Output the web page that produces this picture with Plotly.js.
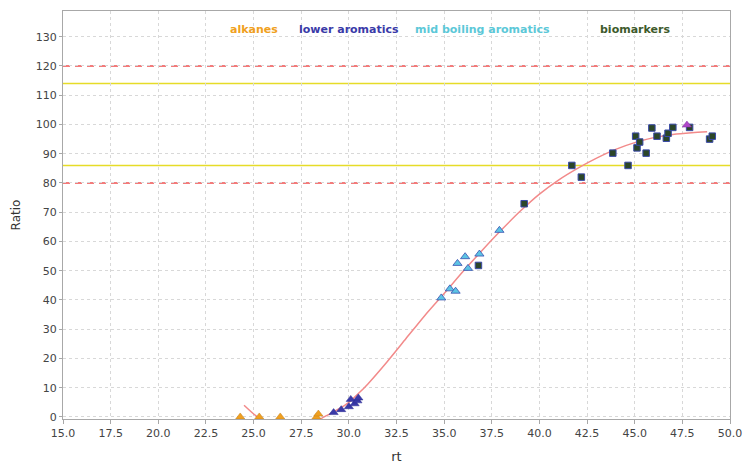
<!DOCTYPE html>
<html>
<head>
<meta charset="utf-8">
<script src="https://cdn.plot.ly/plotly-3.0.1.min.js"></script>
<style>html,body{margin:0;padding:0;background:#fff}#chart{width:744px;height:465px}</style>
</head>
<body>
<div id="chart"></div>
<script>
// ---- data ----
const alkanesX = [24.3, 25.3, 26.4, 28.3, 28.4];
const alkanesY = [0, 0, 0, 0, 1];

const lowerAromX = [29.2, 29.6, 30.0, 30.1, 30.3, 30.45, 30.5];
const lowerAromY = [1.5, 2.5, 3.5, 6.0, 4.5, 5.5, 6.5];

const midAromX = [34.85, 35.3, 35.6, 35.7, 36.1, 36.25, 36.85, 37.9];
const midAromY = [40.7, 43.8, 43.0, 52.5, 54.8, 50.8, 55.7, 63.8];

const biomarkX = [36.8, 39.2, 41.7, 42.2, 43.85, 44.65, 45.05, 45.12, 45.26, 45.6, 45.9, 46.17, 46.66, 46.75, 47.0, 47.88, 48.93, 49.07];
const biomarkY = [51.8, 72.9, 86.0, 82.0, 90.2, 86.0, 96.0, 92.0, 94.0, 90.2, 98.8, 96.0, 95.3, 97.0, 99.0, 99.0, 95.0, 96.0];

const outlierX = [47.74];
const outlierY = [99.8];

const fitX = [24.5, 25.2, 26.0, 27.0, 28.0, 28.7, 29.5, 30.0, 30.5, 31.0, 32.0, 33.0, 34.0, 35.0, 36.0, 37.0, 38.0, 39.0, 40.0, 41.0, 42.0, 43.0, 44.0, 45.0, 46.0, 47.0, 48.0, 48.8];
const fitY = [4.0, 0.0, -3.0, -4.0, -2.5, 0.0, 2.8, 5.0, 8.0, 11.3, 18.8, 26.8, 34.8, 42.2, 49.8, 57.0, 63.9, 70.4, 76.2, 81.0, 85.0, 88.5, 91.5, 93.8, 95.5, 96.6, 97.2, 97.5];

const redLimits = [120, 80];
const yellowLimits = [114, 86];

const xTicks = [15.0, 17.5, 20.0, 22.5, 25.0, 27.5, 30.0, 32.5, 35.0, 37.5, 40.0, 42.5, 45.0, 47.5, 50.0];
const yTicks = [0, 10, 20, 30, 40, 50, 60, 70, 80, 90, 100, 110, 120, 130];

const legendNames = ["alkanes", "lower aromatics", "mid boiling aromatics", "biomarkers"];
const legendColors = ["#f0a020", "#3a3aa8", "#5cc8d8", "#3e5a2c"];
const legendPos = [254, 349, 482, 635];

// ---- traces ----
const traces = [
  {x: fitX, y: fitY, mode: 'lines', line: {color: '#f28a8a', width: 1.5, shape: 'spline', smoothing: 0.8}, hoverinfo: 'skip'},
  {x: alkanesX, y: alkanesY, mode: 'markers', cliponaxis: false,
   marker: {symbol: 'triangle-up', size: 8, color: '#f0a020', line: {color: '#c08020', width: 0.5}}},
  {x: lowerAromX, y: lowerAromY, mode: 'markers',
   marker: {symbol: 'triangle-up', size: 8, color: '#3a3aa8', line: {color: '#2a2a90', width: 0.5}}},
  {x: midAromX, y: midAromY, mode: 'markers',
   marker: {symbol: 'triangle-up', size: 8, color: '#5cc4e4', line: {color: '#3a50b0', width: 0.8}}},
  {x: biomarkX, y: biomarkY, mode: 'markers',
   marker: {symbol: 'square', size: 6.5, color: '#2c4628', line: {color: '#3a4aa8', width: 1}}},
  {x: outlierX, y: outlierY, mode: 'markers',
   marker: {symbol: 'triangle-up', size: 8, color: '#b048c8', line: {color: '#8030a0', width: 0.5}}}
];

const shapes = [];
redLimits.forEach(v => shapes.push({type: 'line', xref: 'paper', yref: 'y', x0: 0, x1: 1, y0: v, y1: v,
  line: {color: '#f05050', width: 1.6, dash: '7px,5px'}, layer: 'below'}));
yellowLimits.forEach(v => shapes.push({type: 'line', xref: 'paper', yref: 'y', x0: 0, x1: 1, y0: v, y1: v,
  line: {color: '#e6dc28', width: 1.4}, layer: 'below'}));

const plotL = 63, plotR = 730;
const annotations = legendNames.map((n, i) => ({
  text: '<b>' + n + '</b>', xref: 'paper', yref: 'paper',
  x: (legendPos[i] - plotL) / (plotR - plotL), y: (419 - 30) / (419 - 11),
  xanchor: 'center', yanchor: 'middle', showarrow: false,
  font: {family: 'DejaVu Sans', size: 11, color: legendColors[i]}
}));

const layout = {
  width: 744, height: 465,
  margin: {l: 63, r: 14, t: 11, b: 46, pad: 0},
  paper_bgcolor: '#ffffff', plot_bgcolor: '#ffffff',
  showlegend: false,
  font: {family: 'DejaVu Sans', size: 11, color: '#444444'},
  xaxis: {
    range: [15, 50], tickvals: xTicks, ticktext: xTicks.map(v => v.toFixed(1)),
    showgrid: true, gridcolor: '#d8d8d8', griddash: 'dot', gridwidth: 1,
    zeroline: false, showline: true, linecolor: '#a8a8a8', linewidth: 1, mirror: true,
    ticks: 'outside', ticklen: 4, tickcolor: '#a8a8a8',
    tickfont: {family: 'DejaVu Sans', size: 11, color: '#444444'},
    title: {text: 'rt', font: {family: 'DejaVu Sans', size: 13, color: '#333333'}, standoff: 12}
  },
  yaxis: {
    range: [-0.7, 138.8], tickvals: yTicks,
    showgrid: true, gridcolor: '#d8d8d8', griddash: 'dot', gridwidth: 1,
    zeroline: false, showline: true, linecolor: '#a8a8a8', linewidth: 1, mirror: true,
    ticks: 'outside', ticklen: 3, tickcolor: '#a8a8a8',
    tickfont: {family: 'DejaVu Sans', size: 11, color: '#444444'},
    title: {text: 'Ratio', font: {family: 'DejaVu Sans', size: 12, color: '#333333'}, standoff: 12}
  },
  shapes: shapes,
  annotations: annotations
};

Plotly.newPlot('chart', traces, layout, {displayModeBar: false, staticPlot: true});
</script>
</body>
</html>
